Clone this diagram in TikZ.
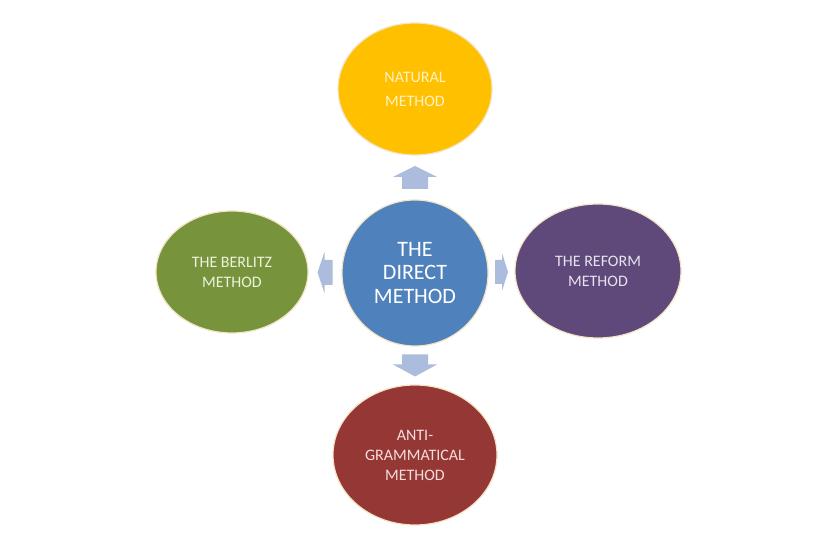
\documentclass[tikz,border=0pt]{standalone}
\usepackage{fontspec}
\setmainfont{Carlito}
\usetikzlibrary{shapes.geometric,calc}

\definecolor{natgold}{HTML}{FFC000}
\definecolor{dirblue}{HTML}{4F81BD}
\definecolor{berlgreen}{HTML}{77933C}
\definecolor{refpurple}{HTML}{5F497A}
\definecolor{antired}{HTML}{953735}
\definecolor{arrowblue}{HTML}{ABBCDD}
\definecolor{rimcream}{HTML}{F3E4C6}

% block arrow: centre, angle, length, half shaft, half head, head length
\newcommand{\blkarrow}[6]{%
  \fill[arrowblue,shift={(#1)},rotate=#2]
    (-#3/2,-#4) -- (#3/2-#6,-#4) -- (#3/2-#6,-#5) -- (#3/2,0)
    -- (#3/2-#6,#5) -- (#3/2-#6,#4) -- (-#3/2,#4) -- cycle;}

\tikzset{
  method/.style={ellipse,draw=rimcream,line width=1.2pt,inner sep=0pt,align=center,
    font=\fontsize{16}{20}\selectfont}
}

\begin{document}
\begin{tikzpicture}[x=1pt,y=1pt]
% The canvas
\fill[white] (0,0) rectangle (829,537);
\useasboundingbox (0,0) rectangle (829,537);
% The hub
\node[circle,fill=dirblue,draw=rimcream,line width=1.2pt,minimum size=146pt,inner sep=0pt,
  align=center,text=white,font=\fontsize{22}{23.5}\selectfont] (direct) at (415,264)
  {THE\\DIRECT\\METHOD};
% The four methods
\node[method,fill=natgold,text={rgb,255:red,255;green,242;blue,196},minimum width=154pt,
  minimum height=132pt,font=\fontsize{16}{24}\selectfont] (natural) at (415,448)
  {NATURAL\\METHOD};
\node[method,fill=berlgreen,text={rgb,255:red,236;green,242;blue,222},minimum width=152pt,
  minimum height=122pt] (berlitz) at (232,265) {THE BERLITZ\\METHOD};
\node[method,fill=refpurple,text={rgb,255:red,232;green,226;blue,238},minimum width=166pt,
  minimum height=134pt] (reform) at (598,266) {THE REFORM\\METHOD};
\node[method,fill=antired,text={rgb,255:red,244;green,222;blue,221},minimum width=164pt,
  minimum height=140pt] (anti) at (415,82) {ANTI-\\GRAMMATICAL\\METHOD};
% The block arrows
\coordinate (upmid) at ($(direct.north)!0.5!(natural.south)$);
\coordinate (downmid) at ($(direct.south)!0.5!(anti.north)$);
\coordinate (leftmid) at ($(direct.west)!0.5!(berlitz.east)$);
\coordinate (rightmid) at ($(direct.east)!0.5!(reform.west)$);
\blkarrow{upmid}{90}{23}{13}{22}{11}
\blkarrow{downmid}{270}{22}{13}{22}{12}
\blkarrow{leftmid}{180}{15}{12.5}{20.5}{7}
\blkarrow{rightmid}{0}{13}{12}{19}{6}
\end{tikzpicture}
\end{document}
